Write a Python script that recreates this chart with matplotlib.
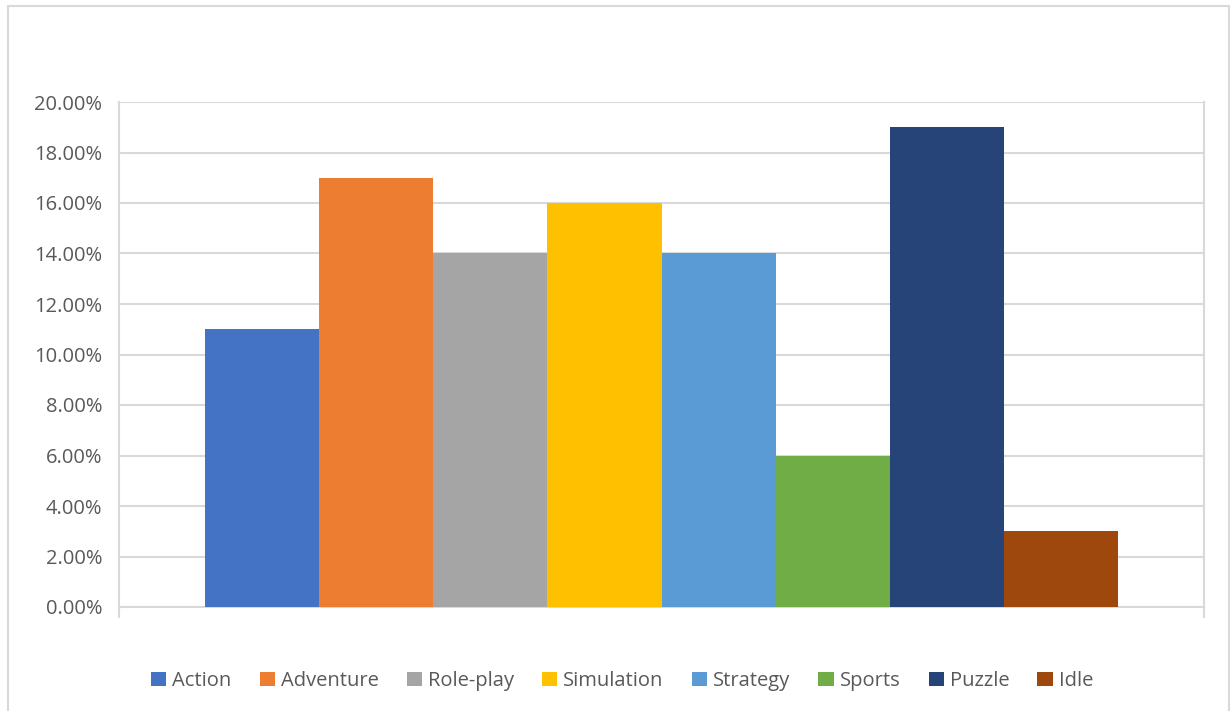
import matplotlib.pyplot as plt
from matplotlib.patches import Rectangle
from matplotlib.ticker import PercentFormatter

genres = ['Action', 'Adventure', 'Role-play', 'Simulation', 'Strategy', 'Sports', 'Puzzle', 'Idle']
shares = [0.11, 0.17, 0.14, 0.16, 0.14, 0.06, 0.19, 0.03]
colors = ['#4472C4', '#ED7D31', '#A5A5A5', '#FFC000', '#5B9BD5', '#70AD47', '#264478', '#9E480E']

plt.rcParams['font.family'] = ['Open Sans', 'DejaVu Sans']
grey = '#595959'
line = '#d9d9d9'

fig = plt.figure(figsize=(12.32, 7.11), dpi=100)
ax = fig.add_axes([119 / 1232, 1 - 607 / 711, (1204 - 119) / 1232, (607 - 102) / 711])

# one category, eight series side by side (Excel clustered column)
n = len(genres)
width = 0.8415 / n
for i, (g, v, c) in enumerate(zip(genres, shares, colors)):
    x = (i - (n - 1) / 2) * width
    ax.bar(x, v, width=width, color=c, label=g, zorder=3)

ax.set_xlim(-0.5, 0.5)
ax.set_ylim(0, 0.20)
ax.set_yticks([i * 0.02 for i in range(11)])
ax.yaxis.set_major_formatter(PercentFormatter(1.0, decimals=2))
ax.grid(axis='y', color=line, linewidth=1.5, zorder=0)
ax.set_xticks([-0.5, 0.5])
ax.set_xticklabels([])
ax.tick_params(axis='x', length=8, width=1.5, color=line)
ax.tick_params(axis='y', length=0, labelsize=14.5, labelcolor=grey, pad=12)
ax.spines['top'].set_visible(False)
for s in ['left', 'right', 'bottom']:
    ax.spines[s].set_color(line)
    ax.spines[s].set_linewidth(1.5)

fig.legend(loc='center', bbox_to_anchor=(622 / 1232, 1 - 681 / 711), ncol=n, frameon=False,
           fontsize=14.5, labelcolor=grey, handlelength=0.75, handleheight=0.75,
           handletextpad=0.3, columnspacing=1.4)

fig.patches.append(Rectangle((8 / 1232, -0.05), (1229 - 8) / 1232, 1.05 - 6 / 711,
                             transform=fig.transFigure, fill=False, edgecolor=line, linewidth=1.5))

fig.savefig('out.png', dpi=100)
